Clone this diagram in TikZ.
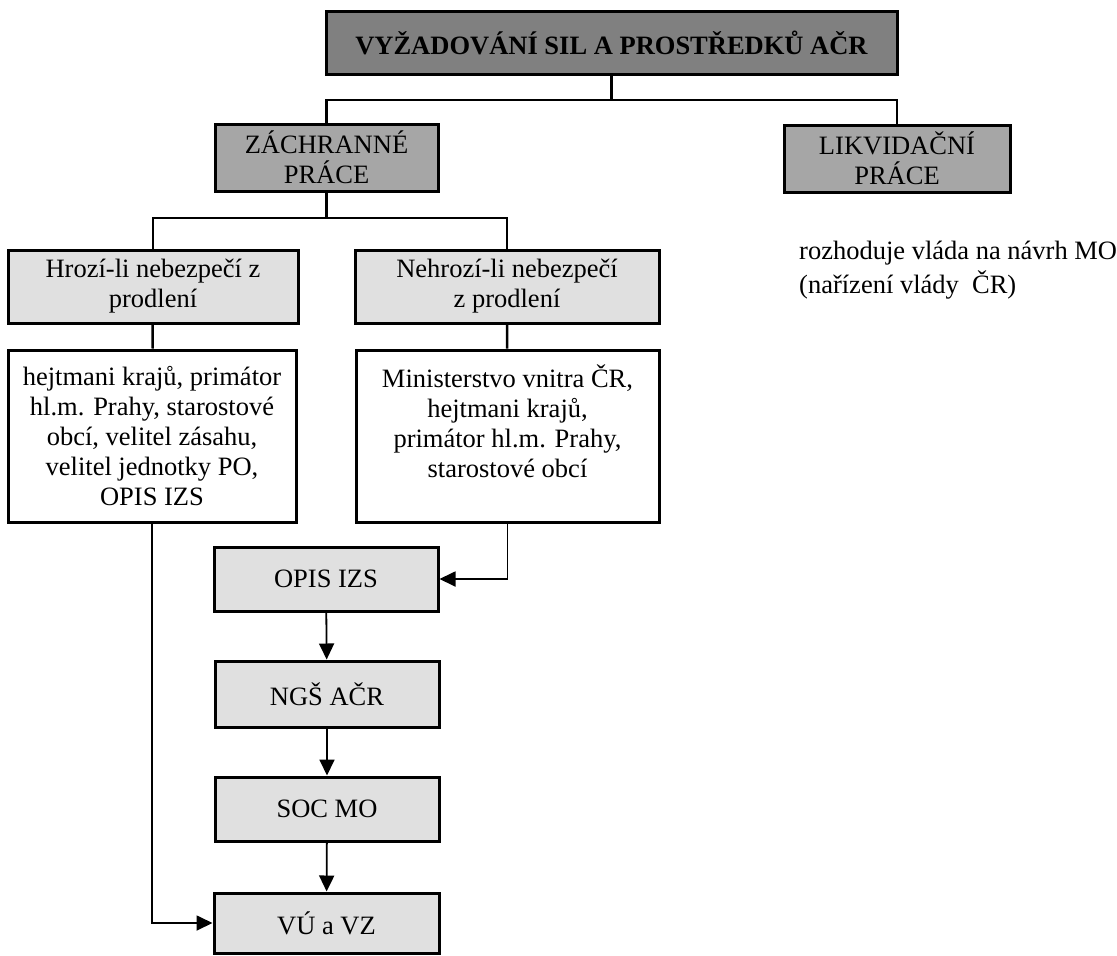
\documentclass[tikz,border=0pt]{standalone}
\usepackage{fontspec}
\setmainfont{Liberation Serif}
\usetikzlibrary{arrows.meta}
\definecolor{darkgrey}{HTML}{808080}
\definecolor{midgrey}{HTML}{A6A6A6}
\definecolor{lightgrey}{HTML}{E0E0E0}

\begin{document}
\begin{tikzpicture}[x=1pt, y=-1pt,
    block/.style={rectangle, draw, line width=3pt, align=center, inner sep=0pt, font=\fontsize{26.5}{30}\selectfont},
    link/.style={line width=2.5pt},
    arrow/.style={-{Triangle[length=16pt,width=15pt]}, line width=1.8pt}
]
\useasboundingbox (0,0) rectangle (1117,956);

\node[block, fill=darkgrey, font=\fontsize{26.5}{30}\selectfont\bfseries, minimum width=571pt, minimum height=63pt] (top) at (611.5,42.5) {VYŽADOVÁNÍ SIL A PROSTŘEDKŮ AČR};

\node[block, fill=midgrey, minimum width=223pt, minimum height=67pt] (zach) at (326.5,157.5) {ZÁCHRANNÉ\\PRÁCE};
\node[block, fill=midgrey, minimum width=226pt, minimum height=67pt] (likv) at (897,158.5) {LIKVIDAČNÍ\\PRÁCE};

\node[block, fill=lightgrey, minimum width=290pt, minimum height=73pt] (hroz) at (153,286.5) {Hrozí-li nebezpečí z\\prodlení};
\node[block, fill=lightgrey, minimum width=304pt, minimum height=73pt] (nehr) at (507,286.5) {Nehrozí-li nebezpečí\\z prodlení};

\node[block, minimum width=288pt, minimum height=172pt] (hejt) at (152,436) {hejtmani krajů, primátor\\hl.m. Prahy, starostové\\obcí, velitel zásahu,\\velitel jednotky PO,\\OPIS IZS};
\node[block, minimum width=303pt, minimum height=172pt] (mini) at (507.5,436) {Ministerstvo vnitra ČR,\\hejtmani krajů,\\primátor hl.m. Prahy,\\starostové obcí\\\mbox{}};

\node[block, fill=lightgrey, minimum width=224pt, minimum height=64pt] (opis) at (326,579) {OPIS IZS};
\node[block, fill=lightgrey, minimum width=224pt, minimum height=66pt] (ngs) at (327,694) {NGŠ AČR};
\node[block, fill=lightgrey, minimum width=224pt, minimum height=64pt] (soc) at (327,809) {SOC MO};
\node[block, fill=lightgrey, minimum width=225pt, minimum height=60pt] (vu) at (326.5,923) {VÚ a VZ};

\node[align=left, anchor=west, inner sep=0pt, font=\fontsize{26.5}{34}\selectfont] (vlada) at (799,270) {rozhoduje vláda na návrh MO\\(nařízení vlády~~ČR)};

\coordinate (split1) at (611.5,100);
\coordinate (split2) at (326.5,218);

\draw[link] (top) -- (split1);
\draw[link] (zach.north) |- (split1) -| (likv.north);
\draw[link] (zach) -- (split2);
\draw[link] (hroz.north) |- (split2) -| (nehr.north);
\draw[link] (hroz) -- (hejt);
\draw[link] (nehr) -- (mini);

\draw[arrow] (mini.south) |- (opis.east);
\draw[arrow] (opis) -- (ngs);
\draw[arrow] (ngs) -- (soc);
\draw[arrow] (soc) -- (vu);
\draw[arrow] (hejt.south) |- (vu.west);
\end{tikzpicture}
\end{document}
